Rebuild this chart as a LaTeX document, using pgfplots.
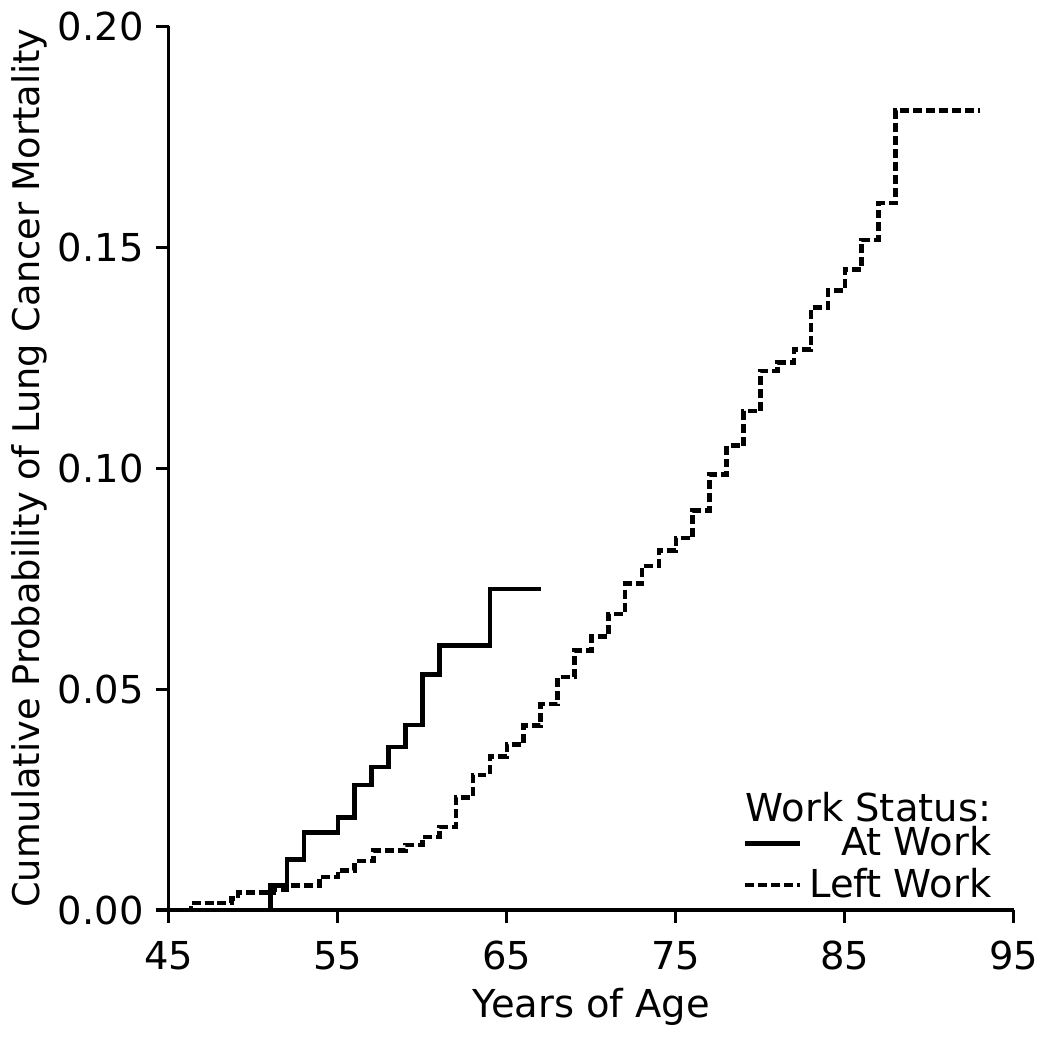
\documentclass[border=0pt]{standalone}
\usepackage{fontspec}
\setmainfont{DejaVu Sans}
\usepackage{pgfplots}
\pgfplotsset{compat=1.18}

\begin{document}
\begin{tikzpicture}
\begin{axis}[
    width=8.49cm, height=8.88cm, scale only axis,
    xmin=45, xmax=95, ymin=0, ymax=0.2,
    axis lines=left,
    axis line style={-, line width=0.9pt},
    xtick={45,55,65,75,85,95},
    ytick={0,0.05,0.10,0.15,0.20},
    tick align=outside,
    major tick length=1.3mm,
    tick style={black, line width=0.9pt},
    /pgf/number format/assume math mode=true,
    yticklabel style={/pgf/number format/fixed, /pgf/number format/fixed zerofill,
        /pgf/number format/precision=2},
    ticklabel style={font=\fontsize{11}{13}\selectfont},
    xticklabel style={yshift=-0.6mm},
    xlabel={Years of Age},
    ylabel={Cumulative Probability of Lung Cancer Mortality},
    xlabel style={font=\fontsize{11}{13}\selectfont, at={(axis description cs:0.5,-0.11)}, anchor=center},
    ylabel style={font=\fontsize{10.5}{12}\selectfont, at={(axis description cs:-0.165,0.5)}, anchor=center},
    legend style={draw=none, fill=none, at={(rel axis cs:0.995,-0.008)}, anchor=south east,
        font=\fontsize{11}{13}\selectfont, row sep=-2pt},
    legend cell align=right,
    legend image code/.code={\draw[#1] (0cm,0cm) -- (0.55cm,0cm);},
    clip=false,
]
% At Work
\addplot[const plot, black, line width=1.3pt] coordinates {
    (45,0) (51,0.0056) (52,0.0114) (53,0.0176) (55,0.0209) (56,0.0283)
    (57,0.0324) (58,0.0369) (59,0.0419) (60,0.0533) (61,0.0598)
    (64,0.0726) (67,0.0726)
};
\addlegendentry{At Work}
% Left Work
\addplot[const plot, black, line width=1.3pt, dash pattern=on 0.9mm off 0.4mm] coordinates {
    (46,0) (46.3,0.0016) (48.7,0.0026) (49.1,0.0040) (51.2,0.0047) (52,0.0055)
    (53.9,0.0075) (55,0.0090) (56,0.0111) (57.1,0.0135) (59,0.0147) (60,0.0165)
    (61,0.0188) (62,0.0255) (63,0.0306) (64,0.0347) (65,0.0375) (66,0.0417)
    (67,0.0466) (68,0.0527) (69,0.0587) (70,0.0619) (71,0.0670) (72,0.0739)
    (73,0.0779) (74,0.0814) (75,0.0842) (76,0.0904) (77,0.0985) (78,0.1051)
    (79,0.1129) (80,0.1220) (81,0.1239) (82,0.1269) (83,0.1363) (84,0.1402)
    (85,0.1449) (86,0.1516) (87,0.1600) (88,0.1809) (93,0.1809)
};
\addlegendentry{Left Work}
\node[anchor=west, inner sep=0pt, font=\fontsize{11}{13}\selectfont] at (axis cs:79.1,0.0232) {Work Status:};
\end{axis}
\end{tikzpicture}
\end{document}
